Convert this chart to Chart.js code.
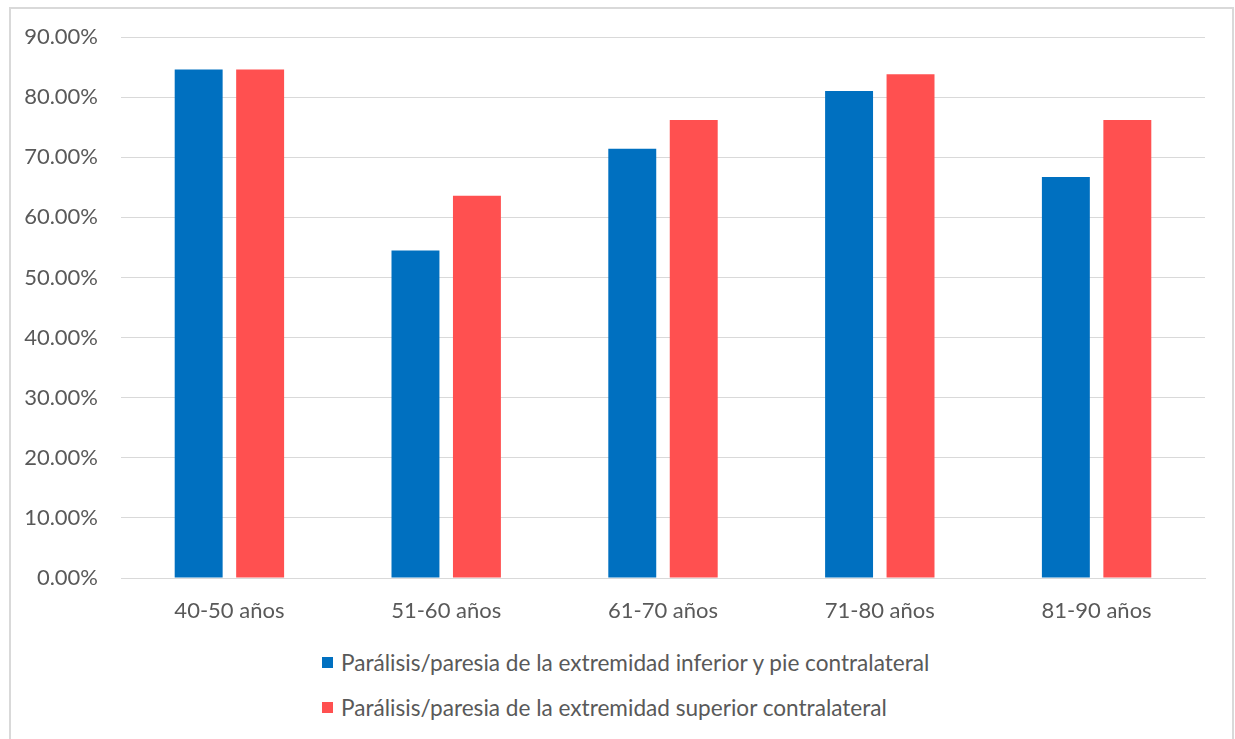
<!DOCTYPE html>
<html>
<head>
<meta charset="utf-8">
<script src="https://cdn.jsdelivr.net/npm/chart.js@4.4.0/dist/chart.umd.min.js"></script>
<style>
    body { margin: 0; background: #fff; font-family: Lato, sans-serif; }
    #frame {
        position: absolute; left: 9px; top: 7px; width: 1225px; height: 745px;
        border: 2px solid #d9d9d9; box-sizing: border-box;
    }
    #chart { position: absolute; left: 0; top: 0; }
    #legend { position: absolute; left: 322px; top: 640px; color: #595959; font-size: 22.6px; }
    .legend-item { display: flex; align-items: center; height: 45px; white-space: nowrap; }
    .legend-box { width: 11px; height: 11px; margin-right: 8px; }
</style>
</head>
<body>
<div id="frame"></div>
<canvas id="chart" width="1235" height="640"></canvas>
<div id="legend"></div>
<script>
// Age groups
const categories = ['40-50 años', '51-60 años', '61-70 años', '71-80 años', '81-90 años'];

// Percentages
const lowerLimb = [84.6, 54.5, 71.4, 81.0, 66.7];
const upperLimb = [84.6, 63.6, 76.2, 83.8, 76.2];

const seriesNames = [
    'Parálisis/paresia de la extremidad inferior y pie contralateral',
    'Parálisis/paresia de la extremidad superior contralateral'
];
const seriesColors = ['#0070C0', '#FF5050'];

const gridColor = '#d9d9d9';
const textColor = '#595959';

const chart = new Chart(document.getElementById('chart'), {
    type: 'bar',
    data: {
        labels: categories,
        datasets: [{
            label: seriesNames[0],
            data: lowerLimb,
            backgroundColor: seriesColors[0]
        }, {
            label: seriesNames[1],
            data: upperLimb,
            backgroundColor: seriesColors[1]
        }]
    },
    options: {
        responsive: false,
        animation: false,
        devicePixelRatio: 1,
        categoryPercentage: 0.567,
        barPercentage: 0.78,
        layout: {
            padding: { top: 37, right: 30, bottom: 2, left: 0 }
        },
        plugins: {
            legend: { display: false },
            tooltip: { enabled: false }
        },
        scales: {
            x: {
                grid: { display: false },
                border: { color: gridColor, width: 1 },
                ticks: {
                    color: textColor,
                    padding: 12,
                    font: { family: 'Lato', size: 22 }
                },
                afterFit: function (scale) { scale.height = 60; }
            },
            y: {
                min: 0,
                max: 90,
                border: { display: false },
                grid: { color: gridColor, lineWidth: 1, drawTicks: false },
                ticks: {
                    stepSize: 10,
                    color: textColor,
                    padding: 23,
                    font: { family: 'Lato', size: 22 },
                    callback: function (value) { return value.toFixed(2) + '%'; }
                },
                afterFit: function (scale) { scale.width = 121; }
            }
        }
    }
});

// Legend built from the datasets, two rows aligned on the left
const legendEl = document.getElementById('legend');
chart.data.datasets.forEach(ds => {
    const row = document.createElement('div');
    row.className = 'legend-item';
    const box = document.createElement('span');
    box.className = 'legend-box';
    box.style.background = ds.backgroundColor;
    const label = document.createElement('span');
    label.textContent = ds.label;
    row.appendChild(box);
    row.appendChild(label);
    legendEl.appendChild(row);
});
</script>
</body>
</html>
